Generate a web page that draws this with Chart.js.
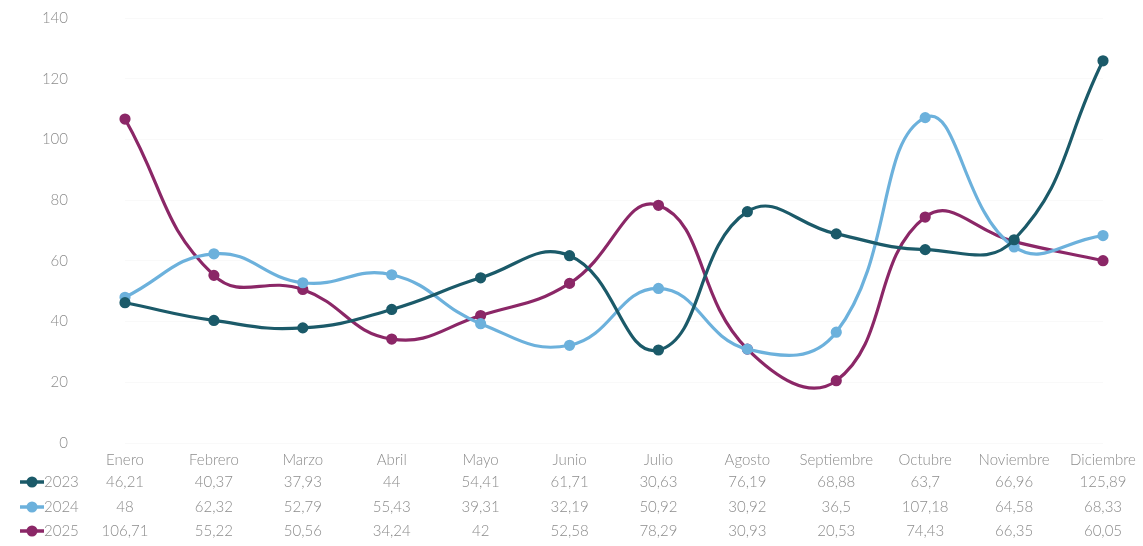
<!DOCTYPE html>
<html>
<head>
<meta charset="utf-8">
<script src="https://cdn.jsdelivr.net/npm/chart.js@4"></script>
<style>
html,body{margin:0;padding:0;background:#fff;}
#wrap{width:1143px;height:546px;position:relative;}
</style>
</head>
<body>
<div id="wrap"><canvas id="c" width="1143" height="546"></canvas></div>
<script>
const categories = ["Enero","Febrero","Marzo","Abril","Mayo","Junio","Julio","Agosto","Septiembre","Octubre","Noviembre","Diciembre"];
const seriesNames = ["2023","2024","2025"];
const values2023 = [46.21,40.37,37.93,44,54.41,61.71,30.63,76.19,68.88,63.7,66.96,125.89];
const values2024 = [48,62.32,52.79,55.43,39.31,32.19,50.92,30.92,36.5,107.18,64.58,68.33];
const values2025 = [106.71,55.22,50.56,34.24,42,52.58,78.29,30.93,20.53,74.43,66.35,60.05];
const tableLabels2023 = ["46,21","40,37","37,93","44","54,41","61,71","30,63","76,19","68,88","63,7","66,96","125,89"];
const tableLabels2024 = ["48","62,32","52,79","55,43","39,31","32,19","50,92","30,92","36,5","107,18","64,58","68,33"];
const tableLabels2025 = ["106,71","55,22","50,56","34,24","42","52,58","78,29","30,93","20,53","74,43","66,35","60,05"];
const yTicks = [0,20,40,60,80,100,120,140];
const colors = ["#1b5a69","#6cb1dc","#8b2767"];

const FONT = "Lato";
const TXT = "#8c8c8c";

const tablePlugin = {
  id: "dataTable",
  afterDraw(chart) {
    const ctx = chart.ctx;
    const xs = chart.scales.x;
    const rows = [tableLabels2023, tableLabels2024, tableLabels2025];
    const rowY = [482, 507, 531];
    ctx.save();
    ctx.font = "300 15px " + FONT;
    ctx.textBaseline = "middle";
    rows.forEach((row, r) => {
      const y = rowY[r];
      ctx.strokeStyle = colors[r];
      ctx.lineWidth = 3.5;
      ctx.beginPath();
      ctx.moveTo(20, y);
      ctx.lineTo(44, y);
      ctx.stroke();
      ctx.fillStyle = colors[r];
      ctx.beginPath();
      ctx.arc(32, y, 5.5, 0, Math.PI * 2);
      ctx.fill();
      ctx.fillStyle = TXT;
      ctx.textAlign = "left";
      ctx.fillText(seriesNames[r], 44, y);
      ctx.textAlign = "center";
      row.forEach((lab, i) => {
        ctx.fillText(lab, xs.getPixelForValue(i), y);
      });
    });
    ctx.restore();
  }
};

const mk = (label, data, color) => ({
  label, data,
  borderColor: color,
  backgroundColor: color,
  borderWidth: 3.2,
  pointRadius: 4,
  pointBackgroundColor: color,
  pointBorderColor: color,
  tension: 0.45,
  fill: false
});

new Chart(document.getElementById("c"), {
  type: "line",
  data: {
    labels: categories,
    datasets: [
      mk(seriesNames[0], values2023, colors[0]),
      mk(seriesNames[1], values2024, colors[1]),
      mk(seriesNames[2], values2025, colors[2])
    ]
  },
  options: {
    responsive: false,
    animation: false,
    layout: { padding: { top: 18, right: 40, bottom: 0, left: 0 } },
    plugins: { legend: { display: false }, tooltip: { enabled: false } },
    scales: {
      x: {
        offset: false,
        grid: { display: false, drawTicks: false },
        border: { display: false },
        ticks: { color: TXT, font: { family: FONT, size: 15, weight: 300 }, padding: 8, maxRotation: 0, autoSkip: false },
        afterFit(s) { s.height = 103; s.paddingLeft = 0; s.paddingRight = 0; }
      },
      y: {
        min: 0, max: 140,
        afterBuildTicks(s) { s.ticks = yTicks.map(v => ({ value: v })); },
        grid: { color: "rgba(0,0,0,0.025)", drawTicks: false },
        border: { display: false },
        ticks: { color: TXT, font: { family: FONT, size: 15, weight: 300 }, padding: 57 },
        afterFit(s) { s.width = 125; s.paddingTop = 0; s.paddingBottom = 0; }
      }
    }
  },
  plugins: [tablePlugin]
});
</script>
</body>
</html>
